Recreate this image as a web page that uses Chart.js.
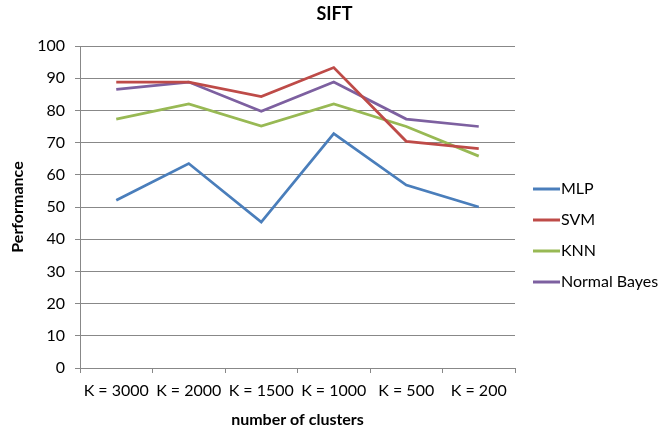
<!DOCTYPE html>
<html>
<head>
<meta charset="utf-8">
<script src="https://cdn.jsdelivr.net/npm/chart.js@4"></script>
<style>
  html, body { margin: 0; padding: 0; background: #fff; }
  #wrap { width: 669px; height: 435px; position: relative; }
</style>
</head>
<body>
<div id="wrap"><canvas id="c" width="669" height="435"></canvas></div>
<script>
const categories = ["K = 3000", "K = 2000", "K = 1500", "K = 1000", "K = 500", "K = 200"];
const seriesNames = ["MLP", "SVM", "KNN", "Normal Bayes"];
const mlp = [52.1, 63.5, 45.3, 72.8, 56.8, 50.0];
const svm = [88.8, 88.8, 84.3, 93.3, 70.4, 68.1];
const knn = [77.3, 82.0, 75.1, 82.0, 75.0, 65.8];
const bayes = [86.5, 88.8, 79.7, 88.8, 77.3, 75.0];
const yTicks = [0, 10, 20, 30, 40, 50, 60, 70, 80, 90, 100];
const chartTitle = "SIFT";
const colors = ["#4A7EBB", "#BE4B48", "#98B954", "#7D60A0"];
const seriesValues = [mlp, svm, knn, bayes];

const FONT = "Lato, 'Open Sans', sans-serif";

const legendPlugin = {
  id: 'sideLegend',
  afterDraw(chart) {
    const ctx = chart.ctx;
    const ds = chart.data.datasets;
    ctx.save();
    // title centred on the whole canvas
    ctx.font = "bold 18px " + FONT;
    ctx.textBaseline = 'middle';
    ctx.textAlign = 'center';
    ctx.fillStyle = '#000';
    ctx.fillText(chartTitle, chart.width / 2, 14);
    // legend
    ctx.font = "16px " + FONT;
    ctx.textAlign = 'left';
    const x0 = 533, startY = 189, step = 31;
    ds.forEach((d, i) => {
      const y = startY + i * step;
      ctx.strokeStyle = d.borderColor;
      ctx.lineWidth = 3;
      ctx.beginPath();
      ctx.moveTo(x0, y);
      ctx.lineTo(x0 + 27, y);
      ctx.stroke();
      ctx.fillStyle = '#000';
      ctx.fillText(d.label, x0 + 28, y);
    });
    ctx.restore();
  }
};

new Chart(document.getElementById('c'), {
  type: 'line',
  data: {
    labels: categories,
    datasets: seriesNames.map((n, i) => ({
      label: n,
      data: seriesValues[i],
      borderColor: colors[i],
      backgroundColor: colors[i],
      borderWidth: 2.75,
      pointRadius: 0,
      tension: 0,
      fill: false
    }))
  },
  options: {
    responsive: false,
    animation: false,
    devicePixelRatio: 1,
    layout: { padding: { top: 46, right: 154, bottom: 0, left: 0 } },
    plugins: {
      legend: { display: false },
      tooltip: { enabled: false },
      title: { display: false }
    },
    scales: {
      x: {
        type: 'category',
        offset: true,
        grid: { display: true, offset: true, drawOnChartArea: false, drawTicks: true, tickLength: 5, color: '#888', lineWidth: 1 },
        border: { display: true, color: '#888', width: 1 },
        ticks: { color: '#000', font: { family: FONT, size: 16 }, padding: 8, maxRotation: 0, autoSkip: false },
        title: { display: true, text: 'number of clusters', color: '#000', font: { family: FONT, size: 16, weight: 'bold' }, padding: { top: 0, bottom: 6 } },
        afterFit(scale) { scale.height = 67; }
      },
      y: {
        min: 0, max: 100,
        afterBuildTicks(scale) { scale.ticks = yTicks.map(v => ({ value: v })); },
        grid: { color: '#888', lineWidth: 1, drawTicks: true, tickLength: 5 },
        border: { display: true, color: '#888', width: 1 },
        ticks: { color: '#000', font: { family: FONT, size: 16 }, padding: 10 },
        title: { display: true, text: 'Performance', color: '#000', font: { family: FONT, size: 16, weight: 'bold' }, padding: { top: 8.4, bottom: 0 } },
        afterFit(scale) { scale.width = 80; }
      }
    }
  },
  plugins: [legendPlugin]
});
</script>
</body>
</html>
